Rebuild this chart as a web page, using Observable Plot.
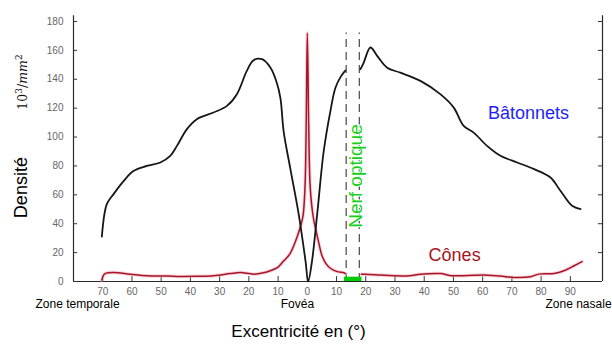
<!DOCTYPE html>
<html>
<head>
<meta charset="utf-8">
<script src="https://cdn.jsdelivr.net/npm/d3@7"></script>
<script src="https://cdn.jsdelivr.net/npm/@observablehq/plot@0.6"></script>
<style>
  html, body { margin: 0; padding: 0; background: #fff; }
</style>
</head>
<body>
<div id="chart"></div>
<script>
// Rods (bâtonnets) density, 10^3/mm², vs eccentricity (negative = temporal)
const rodsDeg = [-70.3, -68.6, -66.3, -62.8, -59.4, -54.9, -50.3, -46.9, -44.6, -41.2, -37.8, -32.1, -27.5, -24.1, -20.7, -18.4, -15.5, -12.6, -10.5, -9.2, -8.1, -5.8, -2.9, -0.6, 0.3, 1.6, 3.4, 5.6, 7.9, 9.6, 11.5, 13.0, 15.5, 18.2, 19.3, 21.6, 23.9, 27.3, 31.8, 38.7, 45.5, 50.1, 53.5, 56.9, 61.5, 66.1, 71.8, 77.6, 83.2, 86.6, 90.6, 93.5];
const rodsVal = [31, 53.6, 60.5, 69.7, 76.6, 80, 82.4, 87, 93.9, 105.5, 112.4, 117, 121.6, 129.7, 145.8, 153.2, 153.9, 148, 138, 127, 104, 78, 46, 14, 0, 14, 47, 90, 118, 134, 142, 146, null, 147, 151.6, 162, 156.2, 148, 144.6, 138.9, 129.7, 120.4, 107.7, 103.1, 93.9, 87, 82.4, 77.8, 72, 62.8, 52.4, 50.1];

// Cones (cônes) density
const conesDeg = [-70.3, -69.8, -69.2, -66.3, -60.6, -54.9, -48, -43.5, -38, -32, -26.4, -22.9, -18.4, -15, -12.7, -10, -8.2, -6, -4, -2.5, -1.5, -0.8, -0.4, 0, 0.5, 1.0, 2, 3, 4, 5, 6.5, 8, 10, 12.5, 13, 15.5, 18.5, 19.9, 25, 29.5, 35, 38.7, 45.5, 49.5, 55, 61.5, 66, 70.7, 76.4, 79.2, 84.4, 87.8, 91.3, 94];
const conesVal = [1, 4, 5.5, 6.2, 5.1, 4, 3.8, 3.5, 3.6, 4, 5.5, 6.2, 5.1, 6, 7.4, 10, 14, 19, 28, 37, 45, 65, 105, 172, 105, 65, 45, 35, 26, 18, 12, 9, 7, 6, 5.5, null, 5, 5.1, 4.5, 4, 4, 5.1, 5.5, 4, 4.2, 4.4, 3.8, 2.8, 3.3, 5.1, 5.5, 7.4, 10.9, 13.8];

// Axes
const xTicks = [-70, -60, -50, -40, -30, -20, -10, 0, 10, 20, 30, 40, 50, 60, 70, 80, 90];
const yTicks = [0, 20, 40, 60, 80, 100, 120, 140, 160, 180];
const xDomain = [-80, 101];
const yDomain = [0, 180];

// Optic nerve (blind spot)
const nerfEdges = [13.3, 17.8];
const nerfBar = [{x1: 12.7, x2: 18.7, y1: 0, y2: 3}];

const rods = rodsDeg.map((d, i) => ({deg: d, val: rodsVal[i]}));
const cones = conesDeg.map((d, i) => ({deg: d, val: conesVal[i]}));

const tickH = 3.4;   // inward tick length in y units
const tickW = 1.4;   // inward tick length in x units

const svg = Plot.plot({
  width: 612,
  height: 345,
  marginLeft: 73,
  marginRight: 10,
  marginTop: 21,
  marginBottom: 64,
  x: {domain: xDomain},
  y: {domain: yDomain},
  style: {background: "#fff", fontFamily: "'Liberation Sans', Arial, sans-serif"},
  marks: [
    // frame lines
    Plot.ruleX(xDomain, {y1: 0, y2: 184, stroke: "#2a2a2a", strokeWidth: 1.2}),
    Plot.ruleY([0], {x1: xDomain[0], x2: xDomain[1], stroke: "#2a2a2a", strokeWidth: 1.2}),
    // inward ticks
    Plot.ruleX(xTicks, {y1: 0, y2: tickH, stroke: "#333", strokeWidth: 1}),
    Plot.ruleY(yTicks, {x1: xDomain[0], x2: xDomain[0] + tickW, stroke: "#333", strokeWidth: 1}),
    Plot.ruleY(yTicks, {x1: xDomain[1] - tickW, x2: xDomain[1], stroke: "#333", strokeWidth: 1}),
    Plot.axisX({ticks: xTicks, tickSize: 0, tickPadding: 6, tickFormat: d => Math.abs(d), fill: "#666", fontSize: 10, label: null}),
    Plot.axisY({ticks: yTicks, tickSize: 0, tickPadding: 10, fill: "#666", fontSize: 10, label: null}),
    // optic nerve
    Plot.ruleX(nerfEdges, {y1: 0, y2: 172, stroke: "#555", strokeWidth: 1.3, strokeDasharray: "8,5"}),
    Plot.rect(nerfBar, {x1: "x1", x2: "x2", y1: "y1", y2: "y2", fill: "#00cc00"}),
    // curves
    Plot.line(cones, {x: "deg", y: "val", stroke: "#f4b8c0", strokeWidth: 3.5, curve: "catmull-rom", strokeOpacity: 0.6}),
    Plot.line(cones, {x: "deg", y: "val", stroke: "#a8142a", strokeWidth: 1.5, curve: "catmull-rom"}),
    Plot.line(rods, {x: "deg", y: "val", stroke: "#161616", strokeWidth: 1.8, curve: "catmull-rom"}),
    // labels
    Plot.text(["Bâtonnets"], {x: 75.7, y: 116.5, text: d => d, fill: "#1f1ff5", fontSize: 18, textAnchor: "middle"}),
    Plot.text(["Cônes"], {x: 50.4, y: 18.5, text: d => d, fill: "#a8141e", fontSize: 18, textAnchor: "middle"}),
    Plot.text(["Nerf optique"], {x: 16.6, y: 73, text: d => d, fill: "#17cf17", fontSize: 19, rotate: -90, textAnchor: "middle", stroke: "#fff", strokeWidth: 2, paintOrder: "stroke"}),
    Plot.text(["Densité"], {x: -97.8, y: 65, text: d => d, fill: "#000", fontSize: 18, rotate: -90, textAnchor: "middle"}),
    Plot.text(["Zone temporale"], {x: -93, y: -15.6, text: d => d, fill: "#000", fontSize: 12, textAnchor: "start"}),
    Plot.text(["Fovéa"], {x: -3.4, y: -15.6, text: d => d, fill: "#000", fontSize: 12, textAnchor: "middle"}),
    Plot.text(["Zone nasale"], {x: 81.5, y: -15.6, text: d => d, fill: "#000", fontSize: 12, textAnchor: "start"}),
    Plot.text(["Excentricité en (°)"], {x: -3, y: -34.5, text: d => d, fill: "#000", fontSize: 17, textAnchor: "middle"})
  ]
});

// unit label 10^3/mm^2 in LaTeX-like style
const unit = d3.select(svg).append("text")
  .attr("transform", "translate(27,82) rotate(-90)")
  .attr("text-anchor", "middle")
  .attr("font-family", "'DejaVu Serif', 'Liberation Serif', serif")
  .attr("font-size", 12.5)
  .attr("fill", "#111");
unit.append("tspan").text("10");
unit.append("tspan").attr("dy", -5).attr("font-size", 9).text("3");
unit.append("tspan").attr("dy", 5).text("/");
unit.append("tspan").attr("font-style", "italic").text("mm");
unit.append("tspan").attr("dy", -5).attr("font-size", 9).text("2");

document.getElementById("chart").appendChild(svg);
</script>
</body>
</html>
